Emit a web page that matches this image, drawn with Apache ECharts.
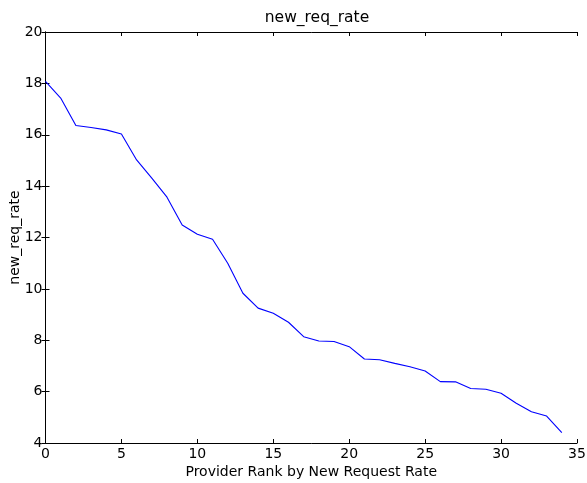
<!DOCTYPE html>
<html><head><meta charset="utf-8">
<script src="https://cdn.jsdelivr.net/npm/echarts@6/dist/echarts.min.js"></script>
<style>html,body{margin:0;padding:0;background:#fff}#c{width:587px;height:483px}</style>
</head><body><div id="c"></div>
<script>
var ranks = [0,1,2,3,4,5,6,7,8,9,10,11,12,13,14,15,16,17,18,19,20,21,22,23,24,25,26,27,28,29,30,31,32,33,34];
var rates = [18.08,17.43,16.36,16.28,16.19,16.03,15.02,14.31,13.57,12.49,12.13,11.93,11.0,9.83,9.25,9.05,8.70,8.14,7.97,7.95,7.75,7.27,7.24,7.10,6.97,6.80,6.39,6.38,6.12,6.09,5.94,5.55,5.22,5.05,4.40];
var titleText = 'new_req_rate';
var xName = 'Provider Rank by New Request Rate';
var yName = 'new_req_rate';

var font = 'DejaVu Sans';
var chart = echarts.init(document.getElementById('c'));
var lineStyle = {color:'#000', width:1};
var tick = {show:true, inside:true, length:4, lineStyle:{color:'#000', width:1}};
chart.setOption({
  animation:false,
  title:{text:titleText, left:312, top:5, textAlign:'center', textStyle:{fontFamily:font, fontSize:15.5, fontWeight:'normal', color:'#000'}},
  grid:{left:45.5, right:10, top:32, bottom:40, containLabel:false, outerBoundsMode:'none'},
  xAxis:[
    {type:'value', min:0, max:35, interval:5, position:'bottom',
     name:xName, nameLocation:'middle', nameGap:22, nameMoveOverlap:false,
     nameTextStyle:{fontFamily:font, fontSize:14, color:'#000'},
     axisLine:{show:true, lineStyle:lineStyle}, axisTick:tick,
     axisLabel:{fontFamily:font, fontSize:14, color:'#000', margin:4, hideOverlap:false},
     splitLine:{show:false}},
    {type:'value', min:0, max:35, interval:5, position:'top',
     axisLine:{show:true, lineStyle:lineStyle}, axisTick:tick,
     axisLabel:{show:false}, splitLine:{show:false}}
  ],
  yAxis:[
    {type:'value', min:4, max:20, interval:2, position:'left',
     name:yName, nameLocation:'middle', nameGap:23, nameMoveOverlap:false,
     nameTextStyle:{fontFamily:font, fontSize:14, color:'#000'},
     axisLine:{show:true, lineStyle:lineStyle}, axisTick:tick,
     axisLabel:{fontFamily:font, fontSize:14, color:'#000', margin:3, hideOverlap:false},
     splitLine:{show:false}},
    {type:'value', min:4, max:20, interval:2, position:'right',
     axisLine:{show:true, lineStyle:lineStyle}, axisTick:tick,
     axisLabel:{show:false}, splitLine:{show:false}}
  ],
  series:[{type:'line', data:ranks.map(function(r,i){return [r, rates[i]];}),
    showSymbol:false, symbol:'none', lineStyle:{color:'#0000ff', width:1.1}, itemStyle:{color:'#0000ff'}}]
});
</script></body></html>
